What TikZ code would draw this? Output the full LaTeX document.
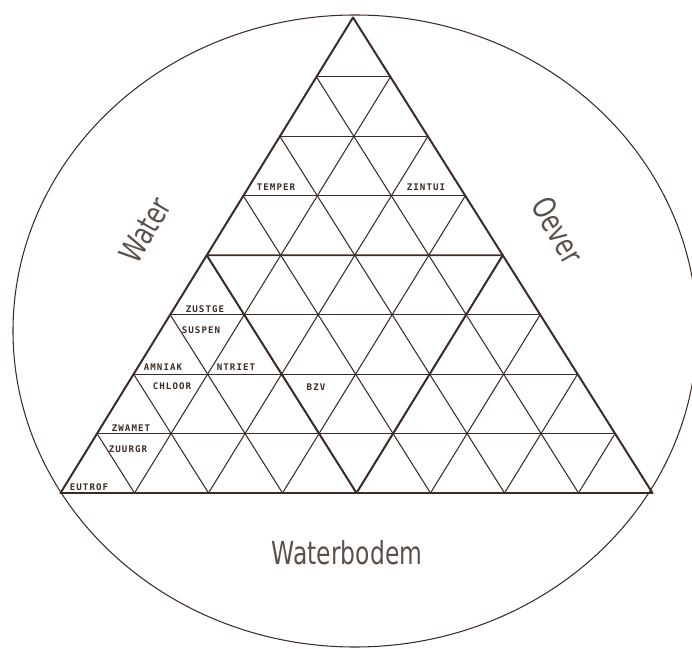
\documentclass[tikz,border=0pt]{standalone}
\usepackage{fontspec}
\usetikzlibrary{calc}
\definecolor{ink}{HTML}{3A2C26}
\definecolor{soft}{HTML}{5A504B}
\newfontfamily\tagfont[LetterSpace=12]{DejaVu Sans Mono Bold}
\newfontfamily\sidefont{DejaVu Sans}
\newcommand{\narrow}[1]{\scalebox{0.74}[1]{#1}}
\begin{document}
\begin{tikzpicture}[x=0.03cm,y=-0.03cm,
 grid/.style={draw=ink,line width=0.9pt},
 frame/.style={draw=ink,line width=1.7pt,line join=round},
 tag/.style={font=\tagfont\fontsize{7.8}{7.8}\selectfont,text=ink,inner sep=0pt},
 side/.style={font=\sidefont\fontsize{27}{27}\selectfont,text=soft,inner sep=0pt}]
\useasboundingbox (0,0) rectangle (692,649);
\coordinate (top) at (353,17.5);
\coordinate (left) at (60.5,493);
\coordinate (right) at (652.5,493);
\coordinate (lmid) at ($(top)!.5!(left)$);
\coordinate (rmid) at ($(top)!.5!(right)$);
\coordinate (bmid) at ($(left)!.5!(right)$);
\draw[grid] (355,331) ellipse [x radius=342,y radius=316];
% fine grid, eight steps a side
\foreach \k in {1,...,7}{
 \draw[grid] ($(top)!\k/8!(left)$) -- ($(top)!\k/8!(right)$);
 \draw[grid] ($(left)!\k/8!(right)$) -- ($(top)!\k/8!(right)$);
 \draw[grid] ($(left)!\k/8!(right)$) -- ($(left)!\k/8!(top)$);
}
\draw[frame] (top) -- (left) -- (right) -- cycle;
\draw[frame] (lmid) -- (rmid) -- (bmid) -- cycle;
\node[tag] (temper) at (276,187.5) {TEMPER};
\node[tag] (zintui) at (426,187.5) {ZINTUI};
\node[tag] (zustge) at (205,309) {ZUSTGE};
\node[tag] (suspen) at (201,330) {SUSPEN};
\node[tag] (amniak) at (163,367) {AMNIAK};
\node[tag] (ntriet) at (236,367) {NTRIET};
\node[tag] (chloor) at (172,386) {CHLOOR};
\node[tag] (bzv) at (316,387) {BZV};
\node[tag] (zwamet) at (131,428.5) {ZWAMET};
\node[tag] (zuurgr) at (128,449) {ZUURGR};
\node[tag] (eutrof) at (89,487) {EUTROF};
\node[side,rotate=60] (water) at (145,230) {\narrow{Water}};
\node[side,rotate=-60] (oever) at (558,230) {\narrow{Oever}};
\node[side] (bodem) at (347,553) {\narrow{Waterbodem}};
\end{tikzpicture}
\end{document}
